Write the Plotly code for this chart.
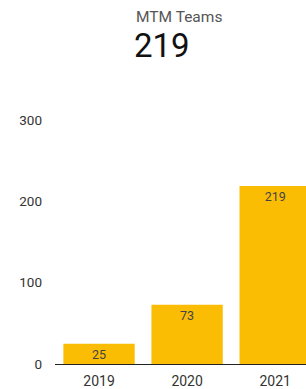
import plotly.graph_objects as go

categories = ["2019", "2020", "2021"]
values = [25, 73, 219]
title_text = "MTM Teams"
total_text = "219"
y_ticks = [0, 100, 200, 300]

W, H = 306, 389
L, R, T, B = 55, 0, 120, 25
pw, ph = W - L - R, H - T - B

fig = go.Figure(go.Bar(
    x=categories, y=values,
    marker=dict(color="#FBBC04", line=dict(width=0)),
    text=[str(v) for v in values],
    textposition="inside", insidetextanchor="end",
    textangle=0, constraintext="none",
    textfont=dict(family="Roboto", size=12.5, color="#444444"),
    cliponaxis=True,
))

fig.update_layout(
    width=W, height=H,
    margin=dict(l=L, r=R, t=T, b=B),
    paper_bgcolor="white", plot_bgcolor="white",
    bargap=0.19,
    showlegend=False,
    font=dict(family="Roboto", color="#333333"),
    xaxis=dict(
        range=[-0.5, 2.35], showgrid=False, showline=True, linecolor="#222222",
        linewidth=1, ticks="", ticklabelstandoff=4,
        tickfont=dict(family="Roboto", size=14, color="#333333"),
        fixedrange=True,
    ),
    yaxis=dict(
        range=[0, 300], tickvals=y_ticks, showgrid=False, zeroline=False,
        showline=False, ticks="", ticklabelstandoff=12,
        tickfont=dict(family="Roboto", size=13.5, color="#333333"),
        fixedrange=True,
    ),
    annotations=[
        dict(text=title_text, xref="paper", yref="paper", x=(134 - L) / pw, y=1 + (T - 17) / ph,
             xanchor="left", yanchor="middle", showarrow=False,
             font=dict(family="Roboto", size=15.5, color="#555555")),
        dict(text=total_text, xref="paper", yref="paper", x=(132 - L) / pw, y=1 + (T - 45) / ph,
             xanchor="left", yanchor="middle", showarrow=False,
             font=dict(family="Roboto", size=33, color="#111111")),
    ],
)

fig.write_html("out.html", config={"displayModeBar": False, "staticPlot": True},
               post_script="document.body.style.margin='0';document.body.style.overflow='hidden';")
